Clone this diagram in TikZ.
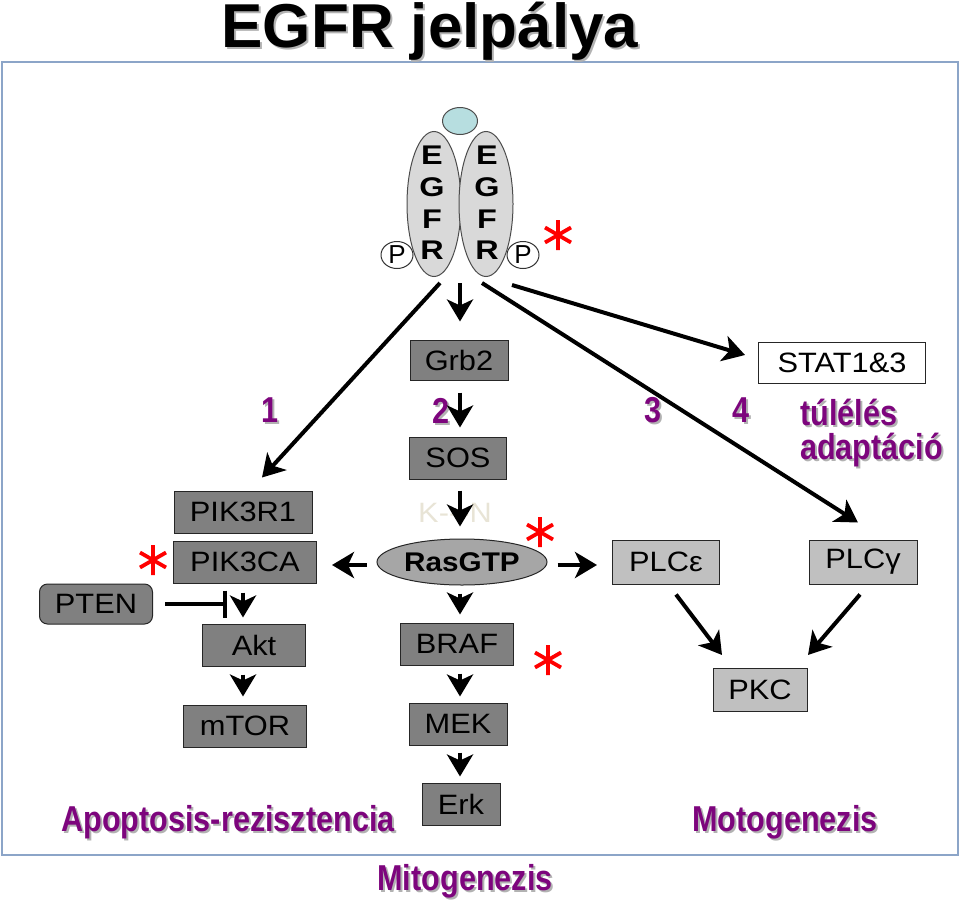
\documentclass[tikz,border=0pt]{standalone}
\usepackage{fontspec}
\setmainfont{Liberation Sans}
\newfontfamily\boxf[FakeStretch=1.1]{Liberation Sans}
\newfontfamily\egf[FakeStretch=1.2]{Liberation Sans}
\newfontfamily\purf[FakeStretch=0.85]{Liberation Sans}
\usetikzlibrary{arrows.meta,shapes.geometric,calc}
\definecolor{boxdark}{RGB}{128,128,128}
\definecolor{boxlight}{RGB}{192,192,192}
\definecolor{rasfill}{RGB}{166,166,166}
\definecolor{egfrfill}{RGB}{217,217,217}
\definecolor{ligfill}{RGB}{183,222,224}
\definecolor{framec}{RGB}{140,165,200}
\definecolor{purp}{RGB}{125,5,125}
\definecolor{knc}{RGB}{232,228,214}
\newcommand\shtext[4]{%
  \node[#3,text=black!30,xshift=2pt,yshift=-2pt] (#1s) at #2 {#4};
  \node[#3] (#1) at #2 {#4};}
\begin{document}
\begin{tikzpicture}[x=1pt,y=-1pt,
  boxd/.style={draw=black!85,line width=1pt,fill=boxdark,inner sep=0pt,
    font=\boxf\fontsize{28}{30}\selectfont},
  boxl/.style={boxd,fill=boxlight},
  arr/.style={line width=4pt,-{Stealth[length=22pt,width=26pt,inset=6pt]}},
  pur/.style={font=\purf\bfseries\fontsize{36}{40}\selectfont,text=purp,inner sep=0pt},
  redast/.pic={\draw[red,line width=3.8pt] (0,-15)--(0,15) (-13,-7.5)--(13,7.5) (-13,7.5)--(13,-7.5);}
]
\useasboundingbox (0,0) rectangle (960,902);
% frame
\draw[framec,line width=1.5pt] (2,62) rectangle (958,855);
% title
\shtext{title}{(430,31)}{font=\bfseries\fontsize{62}{66}\selectfont,inner sep=0pt}{EGFR jelpálya}
% receptor
\node[ellipse,draw=black!70,line width=1pt,fill=ligfill,minimum width=35pt,minimum height=27pt,inner sep=0pt] (lig) at (460,121) {};
\node[ellipse,draw=black!70,line width=1pt,fill=egfrfill,minimum width=54pt,minimum height=145pt,inner sep=0pt] (egfrL) at (434,204) {};
\node[ellipse,draw=black!70,line width=1pt,fill=egfrfill,minimum width=54pt,minimum height=145pt,inner sep=0pt] (egfrR) at (486,204) {};
\node[align=center,font=\egf\bfseries\fontsize{27}{31.7}\selectfont,inner sep=0pt] (egfrLt) at (432,203) {E\\G\\F\\R};
\node[align=center,font=\egf\bfseries\fontsize{27}{31.7}\selectfont,inner sep=0pt] (egfrRt) at (487,203) {E\\G\\F\\R};
\node[ellipse,draw=black!80,line width=1pt,fill=white,minimum width=32pt,minimum height=27pt,inner sep=0pt,font=\fontsize{26}{28}\selectfont] (pL) at (397,255) {P};
\node[ellipse,draw=black!80,line width=1pt,fill=white,minimum width=32pt,minimum height=27pt,inner sep=0pt,font=\fontsize{26}{28}\selectfont] (pR) at (523,255) {P};
\pic at (558,235) {redast};
% boxes
\node[boxd,minimum width=98pt,minimum height=40pt] (grb2) at (459,360) {Grb2};
\node[boxd,minimum width=97pt,minimum height=42pt] (sos) at (458,458) {SOS};
\node[text=knc,font=\boxf\fontsize{28}{30}\selectfont,inner sep=0pt] (kn) at (455,513) {K{-}{-}{-}N};
\node[ellipse,draw=black!85,line width=1pt,fill=rasfill,minimum width=170pt,minimum height=46pt,inner sep=0pt,font=\boxf\bfseries\fontsize{27}{30}\selectfont] (ras) at (462,562) {RasGTP};
\pic at (540,532) {redast};
\node[boxd,minimum width=113pt,minimum height=42pt] (braf) at (457,644) {BRAF};
\pic at (548,660) {redast};
\node[boxd,minimum width=98pt,minimum height=42pt] (mek) at (458,724) {MEK};
\node[boxd,minimum width=78pt,minimum height=42pt] (erk) at (461,804) {Erk};
\node[boxd,minimum width=138pt,minimum height=42pt] (pik3r1) at (243,512) {PIK3R1};
\node[boxd,minimum width=143pt,minimum height=42pt] (pik3ca) at (245,562) {PIK3CA};
\pic at (153,560) {redast};
\node[boxd,rounded corners=8pt,minimum width=113pt,minimum height=40pt] (pten) at (96,604) {PTEN};
\node[boxd,minimum width=103pt,minimum height=42pt] (akt) at (254,645) {Akt};
\node[boxd,minimum width=123pt,minimum height=42pt] (mtor) at (245,726) {mTOR};
\node[boxl,minimum width=107pt,minimum height=44pt] (plce) at (666,562) {PLCε};
\node[boxl,minimum width=108pt,minimum height=44pt] (plcg) at (863,562) {PLCγ};
\node[boxl,minimum width=94pt,minimum height=43pt] (pkc) at (760,690) {PKC};
\node[boxd,fill=white,minimum width=167pt,minimum height=41pt] (stat) at (842,363) {STAT1\&3};
% labels
\shtext{n1}{(270,410)}{pur}{1}
\shtext{n2}{(441,411)}{pur}{2}
\shtext{n3}{(653,410)}{pur}{3}
\shtext{n4}{(741,410)}{pur}{4}
\shtext{tul}{(800,412)}{pur,anchor=west}{túlélés}
\shtext{adap}{(800,450)}{pur,anchor=west}{adaptáció}
\shtext{apop}{(228,822)}{pur}{Apoptosis-rezisztencia}
\shtext{moto}{(785,822)}{pur}{Motogenezis}
\shtext{mito}{(465,881)}{pur}{Mitogenezis}
% connectors
\coordinate (r1) at (440,283);
\coordinate (r2) at (460,283);
\coordinate (r3) at (482,283);
\coordinate (r4) at (512,285);
\draw[arr] (r1) -- ([xshift=19pt,yshift=13pt]pik3r1.north);
\draw[arr,shorten >=18pt] (r2) -- (r2 |- grb2.north);
\draw[arr] (r3) -- ([xshift=-5pt,yshift=17pt]plcg.north);
\draw[arr] (r4) -- ([xshift=-13pt,yshift=8pt]stat.west);
\draw[arr,shorten <=12pt,shorten >=9pt] (grb2.south -| r2) -- (sos.north -| r2);
\draw[arr,shorten <=11pt,shorten >=12pt] (sos.south -| r2) -- (ras.north -| r2);
\draw[arr,shorten <=10pt,shorten >=15pt] ([yshift=-3pt]ras.west) -- ([yshift=-3pt]ras.west -| pik3ca.east);
\draw[arr,shorten <=10pt,shorten >=15pt] ([yshift=-3pt]ras.east) -- ([yshift=-3pt]ras.east -| plce.west);
\draw[arr,shorten <=8pt,shorten >=8pt] (ras.south -| r2) -- (braf.north -| r2);
\draw[arr,shorten <=8pt,shorten >=6pt] (braf.south -| r2) -- (mek.north -| r2);
\draw[arr,shorten <=7pt,shorten >=6pt] (mek.south -| r2) -- (erk.north -| r2);
\coordinate (ax) at (243,600);
\draw[arr,shorten <=9pt,shorten >=6pt] (pik3ca.south -| ax) -- (akt.north -| ax);
\draw[arr,shorten <=8pt,shorten >=8pt] (akt.south -| ax) -- (mtor.north -| ax);
\coordinate (inh) at (227,604);
\draw[line width=4pt,-{Bar[width=27pt,line width=4pt]},shorten <=12pt] (pten.east) -- (inh);
\draw[arr] ([xshift=10pt,yshift=-10pt]plce.south) -- ([xshift=-38pt,yshift=13pt]pkc.north);
\draw[arr] ([xshift=-3pt,yshift=-10pt]plcg.south) -- ([xshift=48pt,yshift=13pt]pkc.north);
\end{tikzpicture}
\end{document}
